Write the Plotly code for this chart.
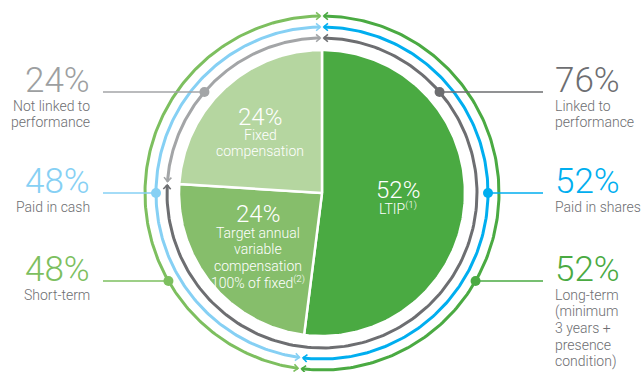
import numpy as np
import plotly.graph_objects as go

# Target pay mix (% of total), slices drawn clockwise from 12 o'clock
slice_values = [52, 24, 24]
slice_pct = ["52%", "24%", "24%"]
slice_names = [["LTIP<sup>(1)</sup>"],
               ["Target annual", "variable", "compensation", "100% of fixed<sup>(2)</sup>"],
               ["Fixed", "compensation"]]
slice_colors = ["#4aaa42", "#86be6b", "#b5d6a0"]

# Outer rings: [right-hand share, left-hand share]
perf_values = [76, 24]   # linked / not linked to performance
pay_values = [52, 48]    # paid in shares / paid in cash
term_values = [52, 48]   # long-term / short-term

perf_text = [["Linked to", "performance"], ["Not linked to", "performance"]]
pay_text = [["Paid in shares"], ["Paid in cash"]]
term_text = [["Long-term", "(minimum", "3 years +", "presence", "condition)"], ["Short-term"]]

W, H = 642, 372
CX, CY = 322, 193          # pie centre in pixels
R_PIE = 143
FONT = "Roboto"
LABEL_GREY = "#6d6e71"


def X(px):
    return px - CX


def Y(py):
    return CY - py


def arc(r, a0, a1, n=200):
    """Points on a circle, angles in degrees clockwise from 12 o'clock."""
    t = np.radians(np.linspace(a0, a1, n))
    return r * np.sin(t), r * np.cos(t)


fig = go.Figure()

# Pie slices
start = 0.0
for v, c in zip(slice_values, slice_colors):
    end = start + v / sum(slice_values) * 360
    ax, ay = arc(R_PIE, start, end)
    fig.add_trace(go.Scatter(
        x=np.r_[0, ax, 0], y=np.r_[0, ay, 0], mode="lines", fill="toself",
        fillcolor=c, line=dict(color="white", width=2.5), hoverinfo="skip"))
    start = end


def chevron(r, ang, sign, color, L=5.5, half=42):
    """Arrowhead with its tip on the circle at `ang`, pointing along +/- tangent."""
    t = np.radians(ang)
    tip = np.array([r * np.sin(t), r * np.cos(t)])
    d = sign * np.array([np.cos(t), -np.sin(t)])
    pts = []
    for s in (1, -1):
        a = np.radians(half) * s
        rot = np.array([d[0] * np.cos(a) - d[1] * np.sin(a), d[0] * np.sin(a) + d[1] * np.cos(a)])
        pts.append(tip - L * rot)
    xs = [pts[0][0], tip[0], pts[1][0]]
    ys = [pts[0][1], tip[1], pts[1][1]]
    fig.add_trace(go.Scatter(x=xs, y=ys, mode="lines", line=dict(color=color, width=1.6),
                             hoverinfo="skip"))


rings = [
    (155, perf_values, ["#6d6e71", "#a3a5a7"]),
    (166, pay_values, ["#00aeef", "#86d0f4"]),
    (177, term_values, ["#4aaa42", "#7dbf5f"]),
]

for r, vals, cols in rings:
    b = vals[0] / sum(vals) * 360
    gap = np.degrees(1.8 / r)
    for (a0, a1), col in zip([(0, b), (b, 360)], cols):
        ax, ay = arc(r, a0 + gap, a1 - gap)
        fig.add_trace(go.Scatter(x=ax, y=ay, mode="lines", line=dict(color=col, width=3),
                                 hoverinfo="skip"))
        chevron(r, a0 + gap, -1, col)
        chevron(r, a1 - gap, 1, col)

annotations = []


def text_lines(px, first_py, lines, anchor, size, color, step):
    for i, line in enumerate(lines):
        annotations.append(dict(x=X(px), y=Y(first_py + i * step), text=line, xanchor=anchor,
                                yanchor="middle", showarrow=False, align=anchor,
                                font=dict(family=FONT, size=size, color=color, weight=300)))


# Leader lines, dots and side labels
levels = [92, 193, 281]     # pixel rows of the leader lines
LEFT_END, RIGHT_END = 103, 543
side = [
    (155, perf_values, perf_text, ["#6d6e71", "#a3a5a7"], ["#6d6e71", "#9d9fa1"]),
    (166, pay_values, pay_text, ["#00aeef", "#86d0f4"], ["#00aeef", "#86d0f4"]),
    (177, term_values, term_text, ["#4aaa42", "#7dbf5f"], ["#4aaa42", "#7dbf5f"]),
]

for (r, vals, texts, lcols, tcols), py in zip(side, levels):
    yv = Y(py)
    dx = np.sqrt(r ** 2 - yv ** 2)
    fig.add_trace(go.Scatter(x=[dx, X(RIGHT_END)], y=[yv, yv], mode="lines",
                             line=dict(color=lcols[0], width=1.6), hoverinfo="skip"))
    fig.add_trace(go.Scatter(x=[-dx, X(LEFT_END)], y=[yv, yv], mode="lines",
                             line=dict(color=lcols[1], width=1.6), hoverinfo="skip"))
    fig.add_trace(go.Scatter(x=[dx, -dx], y=[yv, yv], mode="markers",
                             marker=dict(size=10, color=lcols), hoverinfo="skip"))
    for k, (px, anchor) in enumerate([(553, "left"), (92, "right")]):
        text_lines(px, py - 12, [f"{vals[k]}%"], anchor, 35, tcols[k], 0)
        text_lines(px, py + 13.5, texts[k], anchor, 14, LABEL_GREY, 16.7)

# In-slice labels: (centre x, row of the percentage, row of first caption line)
inner_pos = [(398, 190, 208), (258, 213.5, 233), (260, 116.5, 135)]
for pct, name, (px, pyn, pyt) in zip(slice_pct, slice_names, inner_pos):
    text_lines(px, pyn, [pct], "center", 24, "white", 0)
    text_lines(px, pyt, name, "center", 14, "white", 16.3)

fig.update_layout(
    width=W, height=H, margin=dict(l=0, r=0, t=0, b=0),
    paper_bgcolor="white", plot_bgcolor="white", showlegend=False,
    xaxis=dict(range=[X(0), X(W)], visible=False, fixedrange=True),
    yaxis=dict(range=[Y(H), Y(0)], visible=False, fixedrange=True),
    annotations=annotations,
)
fig.write_html("out.html")
